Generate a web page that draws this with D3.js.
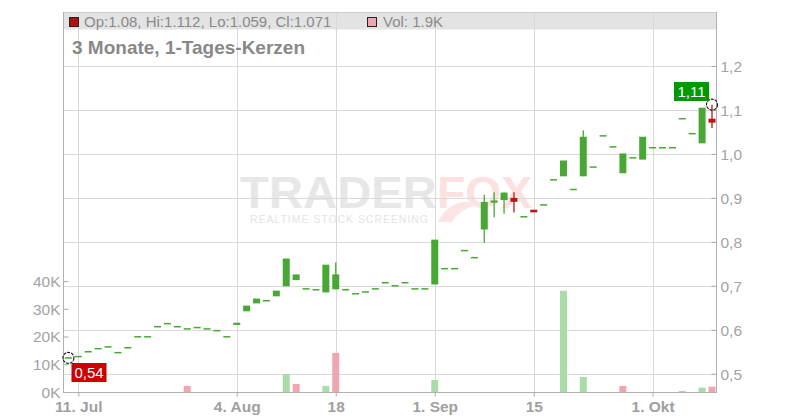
<!DOCTYPE html>
<html>
<head>
<meta charset="utf-8">
<title>3 Monate, 1-Tages-Kerzen</title>
<script src="https://d3js.org/d3.v7.min.js"></script>
<style>
    body { margin: 0; background: #fff; }
    svg { display: block; font-family: "Liberation Sans", Arial, sans-serif; }
</style>
</head>
<body>
<svg id="chart" width="800" height="420"></svg>
<script>
    // trading days, Jul 10 - Oct 9 2025
    var dates = [
        "2025-07-10", "2025-07-11", "2025-07-14", "2025-07-15", "2025-07-16", "2025-07-17", "2025-07-18",
        "2025-07-21", "2025-07-22", "2025-07-23", "2025-07-24", "2025-07-25", "2025-07-28", "2025-07-29",
        "2025-07-30", "2025-07-31", "2025-08-01", "2025-08-04", "2025-08-05", "2025-08-06", "2025-08-07",
        "2025-08-08", "2025-08-11", "2025-08-12", "2025-08-13", "2025-08-14", "2025-08-15", "2025-08-18",
        "2025-08-19", "2025-08-20", "2025-08-21", "2025-08-22", "2025-08-25", "2025-08-26", "2025-08-27",
        "2025-08-28", "2025-08-29", "2025-09-01", "2025-09-02", "2025-09-03", "2025-09-04", "2025-09-05",
        "2025-09-08", "2025-09-09", "2025-09-10", "2025-09-11", "2025-09-12", "2025-09-15", "2025-09-16",
        "2025-09-17", "2025-09-18", "2025-09-19", "2025-09-22", "2025-09-23", "2025-09-24", "2025-09-25",
        "2025-09-26", "2025-09-29", "2025-09-30", "2025-10-01", "2025-10-02", "2025-10-03", "2025-10-06",
        "2025-10-07", "2025-10-08", "2025-10-09"
    ];

    var open = [
        0.536, 0.539, 0.550, 0.557, 0.561, 0.548, 0.559, 0.584, 0.584, 0.607, 0.614, 0.607, 0.602, 0.605,
        0.602, 0.598, 0.584, 0.611, 0.642, 0.660, 0.666, 0.676, 0.699, 0.713, 0.693, 0.691, 0.685, 0.692,
        0.691, 0.682, 0.686, 0.693, 0.707, 0.700, 0.707, 0.693, 0.693, 0.703, 0.739, 0.739, 0.780, 0.764,
        0.828, 0.889, 0.895, 0.900, 0.857, 0.873, 0.884, 0.941, 0.949, 0.919, 0.949, 0.970, 1.041, 1.016,
        0.956, 0.991, 0.987, 1.014, 1.014, 1.014, 1.080, 1.046, 1.024, 1.080
    ];
    var high = [
        0.536, 0.539, 0.550, 0.557, 0.561, 0.548, 0.559, 0.584, 0.584, 0.607, 0.614, 0.607, 0.602, 0.605,
        0.602, 0.598, 0.584, 0.616, 0.655, 0.671, 0.666, 0.689, 0.762, 0.726, 0.693, 0.691, 0.748, 0.753,
        0.691, 0.682, 0.686, 0.693, 0.707, 0.700, 0.707, 0.693, 0.693, 0.805, 0.739, 0.739, 0.780, 0.764,
        0.907, 0.913, 0.912, 0.913, 0.857, 0.873, 0.884, 0.941, 0.985, 0.919, 1.054, 0.970, 1.041, 1.016,
        1.001, 0.991, 1.039, 1.014, 1.014, 1.014, 1.080, 1.046, 1.105, 1.112
    ];
    var low = [
        0.536, 0.539, 0.550, 0.557, 0.561, 0.548, 0.559, 0.584, 0.584, 0.607, 0.614, 0.607, 0.602, 0.605,
        0.602, 0.598, 0.584, 0.611, 0.642, 0.660, 0.666, 0.676, 0.699, 0.713, 0.693, 0.691, 0.685, 0.692,
        0.691, 0.682, 0.686, 0.693, 0.707, 0.700, 0.707, 0.693, 0.693, 0.703, 0.739, 0.739, 0.780, 0.764,
        0.798, 0.856, 0.864, 0.867, 0.857, 0.867, 0.884, 0.941, 0.949, 0.919, 0.949, 0.970, 1.041, 1.016,
        0.956, 0.991, 0.987, 1.014, 1.014, 1.014, 1.080, 1.046, 1.024, 1.059
    ];
    var close = [
        0.536, 0.539, 0.550, 0.557, 0.561, 0.548, 0.559, 0.584, 0.584, 0.607, 0.614, 0.607, 0.602, 0.605,
        0.602, 0.598, 0.584, 0.616, 0.655, 0.671, 0.666, 0.689, 0.762, 0.726, 0.693, 0.691, 0.748, 0.726,
        0.691, 0.682, 0.686, 0.693, 0.707, 0.700, 0.707, 0.693, 0.693, 0.805, 0.739, 0.739, 0.780, 0.764,
        0.891, 0.894, 0.912, 0.891, 0.857, 0.867, 0.884, 0.941, 0.985, 0.919, 1.039, 0.970, 1.041, 1.016,
        1.001, 0.991, 1.039, 1.014, 1.014, 1.014, 1.080, 1.046, 1.105, 1.071
    ];
    // volume in thousands
    var volume = [
        0, 0, 0, 0, 0, 0, 0, 0, 0, 0, 0, 0, 2.2, 0,
        0, 0, 0, 0, 0, 0, 0, 0, 6.5, 2.9, 0, 0, 2.2, 14.1,
        0, 0, 0, 0, 0, 0, 0, 0, 0, 4.3, 0, 0, 0, 0,
        0, 0, 0, 0, 0, 0, 0, 0, 36.5, 0, 5.4, 0, 0, 0,
        2.2, 0, 0, 0, 0, 0, 0.4, 0, 1.6, 1.9
    ];

    var priceTicks = [0.5, 0.6, 0.7, 0.8, 0.9, 1.0, 1.1, 1.2];
    var volumeTicks = [0, 10, 20, 30, 40];
    var dateTicks = ["2025-07-11", "2025-08-04", "2025-08-18", "2025-09-01", "2025-09-15", "2025-10-01"];
    var dateTickLabels = ["11. Jul", "4. Aug", "18", "1. Sep", "15", "1. Okt"];

    var plotLeft = 63, plotRight = 716, plotTop = 12, plotBottom = 392;
    var green = "#49a835", red = "#bb1515";
    var volGreen = "#a9dca6", volRed = "#f0a6ae";
    var textGrey = "#a3a3a3";

    var svg = d3.select("#chart");

    var x = d3.scalePoint().domain(dates).range([68.4, 712]);
    var y = d3.scaleLinear().domain([0.4585, 1.3227]).range([plotBottom, plotTop]);
    var yVol = d3.scaleLinear().domain([0, 137]).range([plotBottom, plotTop]);

    var data = dates.map(function(d, i) {
        return {
            date: d, o: open[i], h: high[i], l: low[i], c: close[i], v: volume[i],
            up: i == 0 ? true : close[i] >= close[i - 1]
        };
    });

    // watermark
    var wm = svg.append("g").attr("class", "watermark");
    wm.append("text").attr("x", 240).attr("y", 208)
        .attr("textLength", 197).attr("lengthAdjust", "spacingAndGlyphs")
        .style("font-size", "45px").style("font-weight", "bold").style("fill", "#e7e7e7")
        .text("TRADER");
    wm.append("text").attr("x", 437).attr("y", 208)
        .attr("textLength", 95).attr("lengthAdjust", "spacingAndGlyphs")
        .style("font-size", "45px").style("font-weight", "bold").style("fill", "#fde1e1")
        .text("FOX");
    wm.append("path")
        .attr("d", "M438,222 C446,204 462,198 482,204 C468,206 458,212 452,222 Z")
        .style("fill", "#fde4e4");
    wm.append("text").attr("x", 250).attr("y", 223)
        .attr("textLength", 178).attr("lengthAdjust", "spacing")
        .style("font-size", "10.5px").style("fill", "#e4e4e4")
        .text("REALTIME STOCK SCREENING");

    // header band
    svg.append("rect").attr("x", plotLeft).attr("y", plotTop).attr("width", plotRight - plotLeft).attr("height", 17.5)
        .style("fill", "#e3e3e3");

    // grid
    svg.append("g").selectAll("line").data(priceTicks).join("line")
        .attr("x1", plotLeft).attr("x2", plotRight)
        .attr("y1", d => Math.round(y(d)) + 0.5).attr("y2", d => Math.round(y(d)) + 0.5)
        .style("stroke", "#d9d9d9");
    svg.append("g").selectAll("line").data(dateTicks).join("line")
        .attr("x1", d => Math.round(x(d)) + 0.5).attr("x2", d => Math.round(x(d)) + 0.5)
        .attr("y1", plotTop).attr("y2", plotBottom)
        .style("stroke", "#d9d9d9");

    svg.append("line").attr("x1", plotLeft).attr("x2", plotRight).attr("y1", plotTop + 0.5).attr("y2", plotTop + 0.5)
        .style("stroke", "#cfcfcf");

    // volume bars
    svg.append("g").selectAll("rect").data(data.filter(d => d.v > 0)).join("rect")
        .attr("x", d => x(d.date) - 3.5).attr("width", 7)
        .attr("y", d => yVol(d.v)).attr("height", d => plotBottom - yVol(d.v))
        .style("fill", d => d.up ? volGreen : volRed);

    // candles
    var candles = svg.append("g").selectAll("g").data(data).join("g");
    candles.filter(d => d.h > Math.max(d.o, d.c) || d.l < Math.min(d.o, d.c))
        .append("line")
        .attr("x1", d => x(d.date)).attr("x2", d => x(d.date))
        .attr("y1", d => y(d.h)).attr("y2", d => y(d.l))
        .style("stroke", d => d.c >= d.o ? green : red).style("stroke-width", 1.3);
    candles.append("rect")
        .attr("x", d => x(d.date) - 3.5).attr("width", 7)
        .attr("y", d => d.o == d.c ? y(d.c) - 0.75 : y(Math.max(d.o, d.c)))
        .attr("height", d => d.o == d.c ? 1.5 : Math.abs(y(d.o) - y(d.c)))
        .style("fill", d => d.c >= d.o ? green : red);

    // axes
    var yAxisRight = d3.axisLeft(y).tickValues(priceTicks).tickSize(5)
        .tickFormat(d => d3.format(".1f")(d).replace(".", ","));
    var gR = svg.append("g").attr("transform", "translate(" + (plotRight + 0.5) + ",0)").call(yAxisRight);
    gR.select(".domain").remove();
    gR.selectAll("text").attr("x", 4).style("text-anchor", "start");

    var yAxisLeft = d3.axisRight(yVol).tickValues(volumeTicks).tickSize(5).tickFormat(d => d + "K");
    var gL = svg.append("g").attr("transform", "translate(" + (plotLeft + 0.5) + ",0)").call(yAxisLeft);
    gL.select(".domain").remove();
    gL.selectAll("text").attr("x", -3).style("text-anchor", "end");

    var xAxis = d3.axisBottom(x).tickValues(dateTicks).tickSize(4)
        .tickFormat((d, i) => dateTickLabels[i]);
    var gX = svg.append("g").attr("transform", "translate(0," + (plotBottom + 0.5) + ")").call(xAxis);
    gX.select(".domain").remove();
    gX.selectAll("text").attr("y", 8).style("font-weight", "bold").style("fill", "#a0a0a0");

    svg.selectAll(".tick line").style("stroke", "#a8a8a8");
    gR.selectAll("text").style("font-size", "15.5px").style("fill", textGrey).attr("dy", "0.35em");
    gL.selectAll("text").style("font-size", "15.5px").style("fill", textGrey).attr("dy", "0.35em");
    gX.selectAll("text").style("font-size", "15.5px").attr("dy", "0.71em");
    svg.selectAll(".tick text").style("font-family", "'Liberation Sans', Arial, sans-serif");

    svg.append("line").attr("x1", plotLeft + 0.5).attr("x2", plotLeft + 0.5).attr("y1", plotTop).attr("y2", plotBottom + 1)
        .style("stroke", "#b0b0b0");
    svg.append("line").attr("x1", plotRight + 0.5).attr("x2", plotRight + 0.5).attr("y1", plotTop).attr("y2", plotBottom + 1)
        .style("stroke", "#b0b0b0");
    svg.append("line").attr("x1", plotLeft).attr("x2", plotRight + 1).attr("y1", plotBottom + 0.5).attr("y2", plotBottom + 0.5)
        .style("stroke", "#b0b0b0");

    // legend
    var last = data[data.length - 1];
    svg.append("rect").attr("x", 69.5).attr("y", 17.5).attr("width", 9).attr("height", 9)
        .style("fill", "#b01212").style("stroke", "#222");
    svg.append("text").attr("x", 84).attr("y", 26.5)
        .style("font-size", "15px").style("fill", "#8a8a8a")
        .text("Op:" + last.o + ", Hi:" + last.h + ", Lo:" + last.l + ", Cl:" + last.c);
    svg.append("rect").attr("x", 367.5).attr("y", 17.5).attr("width", 9).attr("height", 9)
        .style("fill", "#f0a6ae").style("stroke", "#222");
    svg.append("text").attr("x", 383).attr("y", 26.5)
        .style("font-size", "15px").style("fill", "#8a8a8a")
        .text("Vol: " + last.v + "K");

    svg.append("text").attr("x", 72).attr("y", 54)
        .style("font-size", "19px").style("font-weight", "bold").style("fill", "#888")
        .text("3 Monate, 1-Tages-Kerzen");

    // min / max markers
    var hiIdx = d3.maxIndex(high), loIdx = d3.minIndex(low);
    function marker(i, val, boxX, boxY, fill) {
        svg.append("circle").attr("cx", x(dates[i])).attr("cy", y(val)).attr("r", 5.5)
            .style("fill", "none").style("stroke", "#111").style("stroke-width", 1.1)
            .style("stroke-dasharray", "3,1");
        svg.append("rect").attr("x", boxX).attr("y", boxY).attr("width", 35).attr("height", 19)
            .style("fill", fill);
        svg.append("text").attr("x", boxX + 17.5).attr("y", boxY + 15)
            .style("text-anchor", "middle").style("font-size", "15px").style("fill", "#fff")
            .text(d3.format(".2f")(val).replace(".", ","));
    }
    marker(hiIdx, high[hiIdx], 674, 82, "#009a00");
    marker(loIdx, low[loIdx], 71.5, 363, "#cc0000");
</script>
</body>
</html>
